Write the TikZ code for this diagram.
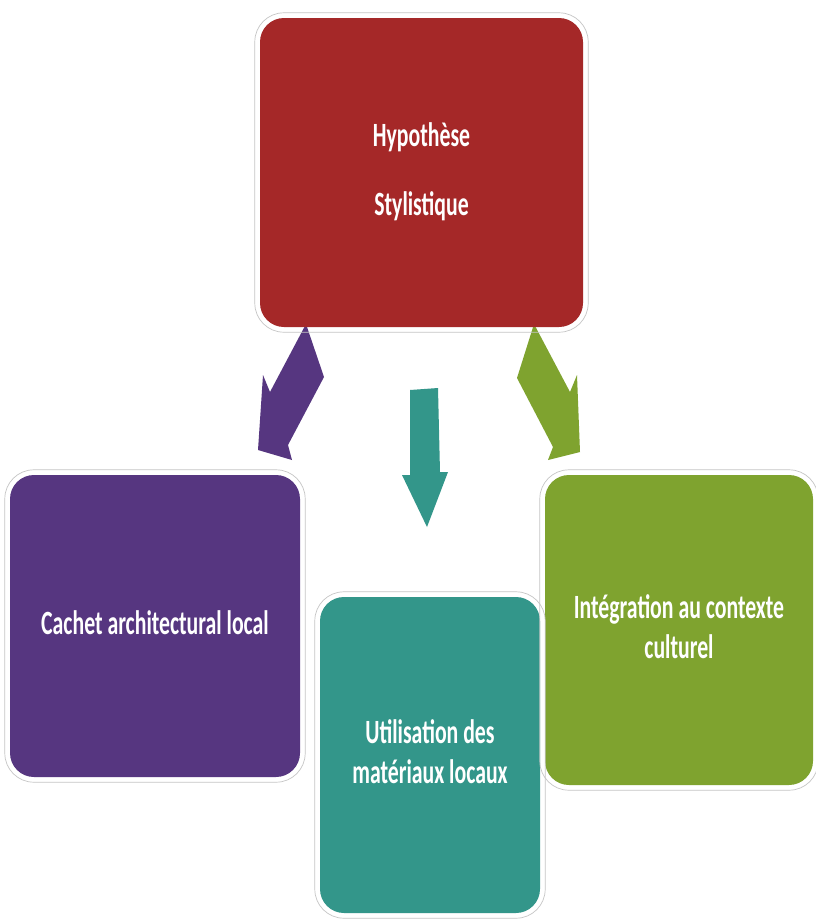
\documentclass[tikz,border=0pt]{standalone}
\usepackage{fontspec}
\usepackage{graphicx}
\newfontfamily\calfont{Carlito}
\definecolor{cred}{RGB}{165,40,40}
\definecolor{cpurple}{RGB}{86,54,128}
\definecolor{cteal}{RGB}{51,150,138}
\definecolor{cgreen}{RGB}{127,163,47}
\newcommand{\lbl}[1]{\scalebox{0.64}[1]{\begin{tabular}{@{}c@{}}#1\end{tabular}}}
\begin{document}
\begin{tikzpicture}[x=1pt,y=-1pt,
  box/.style={rectangle, rounded corners=24pt, inner sep=0pt, text=white,
    font=\calfont\bfseries\fontsize{34}{40}\selectfont, align=center},
  ring/.style={draw=gray!45, line width=0.7pt, rounded corners=29pt}]
\useasboundingbox (0,0) rectangle (816,922);
\fill[white] (0,0) rectangle (816,922);
% block arrows
\fill[cpurple] (306,324) -- (324,377) -- (288,445) -- (292,460) -- (258,450) -- (263,375) -- (270,392) -- cycle;
\fill[cgreen] (534,324) -- (517,378) -- (553,447) -- (548,460) -- (580,452) -- (577,375) -- (570,392) -- cycle;
\fill[cteal] (410,390) -- (438,388) -- (440,472) -- (448,472) -- (427,527) -- (402,475) -- (410,475) -- cycle;
% boxes
\node[box, fill=cred, minimum width=323pt, minimum height=309pt] (top) at (421.5,172.5) {\lbl{Hypothèse\\[29pt]Stylistique}};
\node[box, fill=cpurple, minimum width=290pt, minimum height=302pt] (left) at (155,626) {\lbl{Cachet architectural local}};
\node[box, fill=cgreen, minimum width=268pt, minimum height=310pt] (right) at (679,630) {\lbl{Intégration au contexte\\culturel}};
\node[box, fill=cteal, minimum width=220pt, minimum height=316pt] (mid) at (430,755) {\lbl{Utilisation des\\matériaux locaux}};
% outer rings
\foreach \n in {top,left,right,mid}{
  \draw[ring] ([shift={(-5,-5)}]\n.north west) rectangle ([shift={(5,5)}]\n.south east);
}
\end{tikzpicture}
\end{document}
